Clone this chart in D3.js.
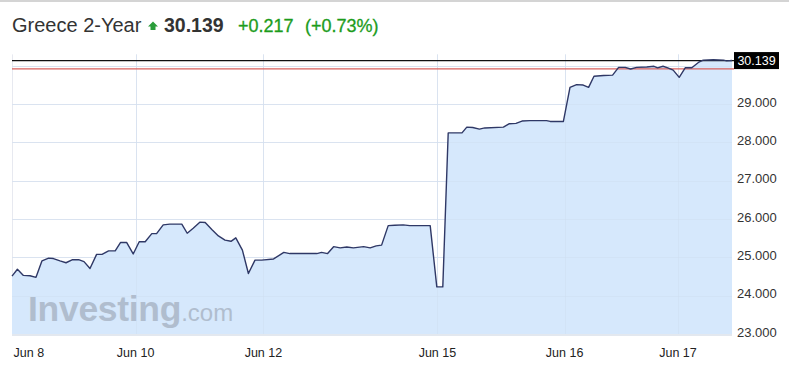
<!DOCTYPE html>
<html><head><meta charset="utf-8">
<script src="https://cdn.jsdelivr.net/npm/d3@7"></script>
<style>body{margin:0;background:#fff;} svg{display:block;font-family:"Liberation Sans",Arial,sans-serif;}</style>
</head><body><svg id="c" width="789" height="378"></svg>
<script>
const titleText = "Greece 2-Year";
const lastValue = 30.139;
const changeText = "+0.217";
const changePctText = "(+0.73%)";
const prevClose = 29.922;
// sample position (trading-time index) and value
const idx = [0,0.9,1.9,3.0,4.0,5.0,6.1,6.9,8.0,9.0,10.1,11.1,12.0,13.0,14.1,15.0,16.1,17.2,18.1,19.1,20.2,21.2,22.2,23.3,24.1,25.2,26.3,28.3,29.2,30.2,31.3,32.2,33.3,34.4,35.5,36.5,37.3,38.4,39.4,40.5,41.6,43.6,45.3,46.3,50.8,51.6,52.6,53.6,54.7,55.8,56.9,58.6,59.7,60.7,61.6,62.7,63.8,65.2,66.3,69.7,70.8,71.8,72.7,75.0,75.8,76.8,77.9,78.8,81.9,82.9,84.0,85.0,86.3,89.1,89.7,91.9,93.0,94.1,95.2,96.1,97.0,98.6,100.1,101.1,102.2,103.1,104.1,105.8,107.0,107.6,108.5,109.3,110.2,111.2,112.2,113.3,114.4,115.2,116.9,118.6,119.1,120];
const values = [24.51,24.69,24.53,24.52,24.48,24.91,24.98,24.97,24.91,24.86,24.94,24.94,24.89,24.71,25.08,25.08,25.17,25.17,25.39,25.39,25.09,25.41,25.41,25.62,25.62,25.85,25.87,25.87,25.63,25.76,25.92,25.91,25.73,25.56,25.45,25.42,25.51,25.19,24.58,24.93,24.93,24.96,25.13,25.10,25.10,25.13,25.10,25.28,25.25,25.27,25.25,25.28,25.25,25.30,25.32,25.83,25.84,25.85,25.83,25.83,24.23,24.23,28.25,28.25,28.40,28.39,28.35,28.38,28.40,28.49,28.50,28.56,28.57,28.57,28.55,28.55,29.44,29.51,29.50,29.44,29.73,29.75,29.76,29.96,29.96,29.92,29.96,29.97,29.99,29.95,29.99,29.95,29.89,29.70,29.95,29.95,30.09,30.15,30.16,30.15,30.13,30.139];
const tickIdx = [2.8,20.6,41.9,70.9,92.1,111];
const tickLabels = ["Jun 8","Jun 10","Jun 12","Jun 15","Jun 16","Jun 17"];
const gridIdx = [20.6,41.9,70.9,92.1,111];
const yGrid = [23,24,25,26,27,28,29,30];
const yLabels = [23,24,25,26,27,28,29];

const data = idx.map((t,i)=>({t, v: values[i]}));
const svg = d3.select("#c");
const x = d3.scaleLinear().domain([0,120]).range([12,732]);
const y = d3.scaleLinear().domain([23,30.3]).range([334,54.4]);

// top border
svg.append("line").attr("x1",0).attr("x2",789).attr("y1",1).attr("y2",1).attr("stroke","#d4d4d4").attr("stroke-width",2);

// title
svg.append("text").attr("x",12).attr("y",32).attr("font-size",20).attr("fill","#333").text(titleText);
svg.append("path").attr("d","M153,21.5 L158,26.5 L155.5,26.5 L155.5,30 L150.5,30 L150.5,26.5 L148,26.5 Z").attr("fill","#2a9d3a");
svg.append("text").attr("x",164).attr("y",32).attr("font-size",19.5).attr("font-weight","bold").attr("fill","#333").text(lastValue.toFixed(3));
svg.append("text").attr("x",238).attr("y",32).attr("font-size",18).attr("fill","#1c9c1c").attr("stroke","#1c9c1c").attr("stroke-width",0.3).text(changeText);
svg.append("text").attr("x",305).attr("y",32).attr("font-size",18).attr("fill","#1c9c1c").attr("stroke","#1c9c1c").attr("stroke-width",0.3).text(changePctText);

// grid
const g = svg.append("g");
g.selectAll("line.h").data(yGrid).join("line")
  .attr("x1",12).attr("x2",732).attr("y1",d=>Math.round(y(d))+0.5).attr("y2",d=>Math.round(y(d))+0.5)
  .attr("stroke","#e7e9f0");
g.selectAll("line.v").data(gridIdx).join("line")
  .attr("y1",y(30.3)).attr("y2",y(23)).attr("x1",d=>Math.round(x(d))+0.5).attr("x2",d=>Math.round(x(d))+0.5)
  .attr("stroke","#e7e9f0");
g.append("line").attr("x1",12.5).attr("x2",12.5).attr("y1",y(30.3)).attr("y2",y(23)).attr("stroke","#e7e9f0");

// area
const area = d3.area().x(d=>x(d.t)).y0(y(23)).y1(d=>y(d.v));
svg.append("path").datum(data).attr("d",area).attr("fill","#d6e8fc");
// faint grid over area
svg.selectAll("line.hh").data(yGrid).join("line")
  .attr("x1",12).attr("x2",732).attr("y1",d=>Math.round(y(d))+0.5).attr("y2",d=>Math.round(y(d))+0.5)
  .attr("stroke","#cfdff1").attr("opacity",0.5);
svg.selectAll("line.vv").data(gridIdx).join("line")
  .attr("y1",y(30.3)).attr("y2",y(23)).attr("x1",d=>Math.round(x(d))+0.5).attr("x2",d=>Math.round(x(d))+0.5)
  .attr("stroke","#cfdff1").attr("opacity",0.5);
svg.append("line").attr("x1",12).attr("x2",732).attr("y1",y(23)+1).attr("y2",y(23)+1).attr("stroke","#e3e8ef").attr("stroke-width",2);

// watermark
const w = svg.append("text").attr("x",28).attr("y",321).attr("fill","#b0bdce");
w.append("tspan").attr("font-size",35.5).attr("font-weight","bold").attr("letter-spacing",-0.3).text("Investing");
w.append("tspan").attr("font-size",24).text(".com");

// ref lines
svg.append("line").attr("x1",12).attr("x2",734).attr("y1",y(prevClose)).attr("y2",y(prevClose)).attr("stroke","#d9605c").attr("stroke-width",1.2);
svg.append("line").attr("x1",12).attr("x2",734).attr("y1",y(lastValue)).attr("y2",y(lastValue)).attr("stroke","#111").attr("stroke-width",1.2);

// line
const line = d3.line().x(d=>x(d.t)).y(d=>y(d.v));
svg.append("path").datum(data).attr("d",line).attr("fill","none").attr("stroke","#2f3866").attr("stroke-width",1.4).attr("stroke-linejoin","round");

// y labels
svg.selectAll("text.yl").data(yLabels).join("text")
  .attr("x",737).attr("y",d=>y(d)-2).attr("dy","0.35em").attr("font-size",13).attr("fill","#333")
  .text(d=>d3.format(".3f")(d));
// value box
svg.append("rect").attr("x",734).attr("y",y(lastValue)-8.5).attr("width",45).attr("height",17).attr("fill","#000");
svg.append("text").attr("x",756.5).attr("y",y(lastValue)).attr("dy","0.35em").attr("text-anchor","middle").attr("font-size",12.5).attr("fill","#fff").text(lastValue.toFixed(3));

// x labels
svg.selectAll("text.xl").data(tickIdx).join("text")
  .attr("x",d=>x(d)).attr("y",357).attr("text-anchor","middle").attr("font-size",12.5).attr("fill","#222")
  .text((d,i)=>tickLabels[i]);
</script></body></html>
